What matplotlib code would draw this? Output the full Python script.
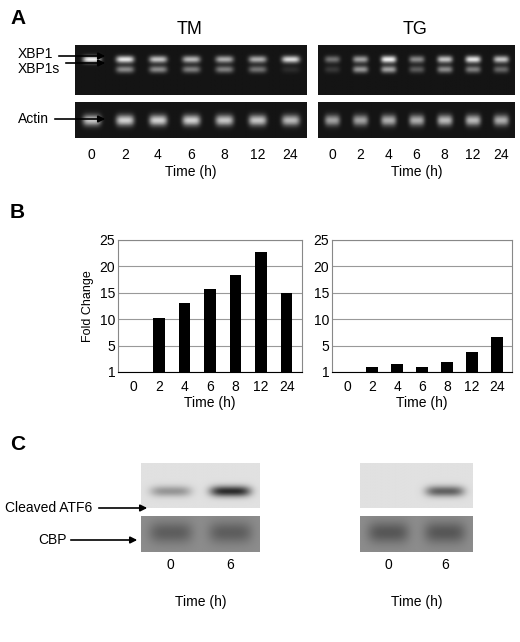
import numpy as np
import matplotlib
matplotlib.use("Agg")
import matplotlib.pyplot as plt

W, H = 520, 642

lanes = ["0", "2", "4", "6", "8", "12", "24"]
# gel band intensities (0..1) read by eye
tm_xbp1 = [0.95, 0.9, 0.75, 0.7, 0.65, 0.65, 0.85]
tm_xbp1s = [0.0, 0.5, 0.5, 0.45, 0.45, 0.4, 0.1]
tg_xbp1 = [0.4, 0.6, 0.95, 0.5, 0.75, 0.9, 0.75]
tg_xbp1s = [0.15, 0.55, 0.6, 0.3, 0.5, 0.45, 0.35]
tm_actin = [0.75, 0.8, 0.8, 0.8, 0.75, 0.75, 0.7]
tg_actin = [0.6, 0.6, 0.65, 0.65, 0.7, 0.7, 0.65]

# fold change (B)
tm_fold = [0, 10.2, 13.0, 15.8, 18.4, 22.7, 15.0]
tg_fold = [0, 1.8, 2.2, 1.8, 2.5, 4.0, 6.6]
fold_ticks = [1, 5, 10, 15, 20, 25]

# western blots (C)
wb_lanes = ["0", "6"]
tm_atf6 = [0.35, 0.85]
tg_atf6 = [0.0, 0.6]
tm_cbp = [0.35, 0.35]
tg_cbp = [0.4, 0.4]

fig = plt.figure(figsize=(W / 100, H / 100), dpi=100)
plt.rcParams["font.family"] = "Liberation Sans"


def px_axes(x0, y0, x1, y1):
    return fig.add_axes([x0 / W, 1 - y1 / H, (x1 - x0) / W, (y1 - y0) / H])


def fold_pos(v):
    # the original axis puts 1..5 on the same spacing as 5..10
    v = max(v, 1)
    return np.interp(v, fold_ticks, np.arange(len(fold_ticks)))


def band_image(rows, n, width=0.6, sig_y=0.09, bg=0.08, dark=False, shape=(60, 300)):
    h, w = shape
    yy, xx = np.mgrid[0:h, 0:w]
    img = np.zeros(shape)
    for yc, vals in rows:
        for i, v in enumerate(vals):
            xc = (i + 0.5) / n * w
            sx = w / n * width / 2.2
            gx = np.exp(-((xx - xc) / sx) ** 4)
            gy = np.exp(-((yy - yc * h) / (sig_y * h)) ** 2)
            img += v * gx * gy
    img = np.clip(img, 0, 1)
    if dark:
        return bg + (1 - bg) * img
    return bg - bg * img * 0.95


def gel(ax, rows, n, **kw):
    ax.imshow(band_image(rows, n, **kw), cmap="gray", vmin=0, vmax=1,
              aspect="auto", interpolation="bilinear")
    ax.set_xticks([])
    ax.set_yticks([])
    for s in ax.spines.values():
        s.set_visible(False)


def arrow(x0, x1, y):
    fig.add_artist(matplotlib.patches.FancyArrowPatch(
        (x0 / W, 1 - y / H), (x1 / W, 1 - y / H), transform=fig.transFigure,
        arrowstyle="-|>", color="black", lw=1.2, mutation_scale=10))


# ---- panel A ----
fig.text(10 / W, 1 - 18 / H, "A", fontsize=15, fontweight="bold", va="center")
fig.text(190 / W, 1 - 30 / H, "TM", fontsize=13, ha="center", va="center")
fig.text(415 / W, 1 - 30 / H, "TG", fontsize=13, ha="center", va="center")

for (x0, x1), top, bot, act in [((75, 307), tm_xbp1, tm_xbp1s, tm_actin),
                                ((318, 515), tg_xbp1, tg_xbp1s, tg_actin)]:
    a = px_axes(x0, 45, x1, 95)
    gel(a, [(0.28, top), (0.48, bot)], 7, sig_y=0.07, dark=True)
    b = px_axes(x0, 102, x1, 138)
    gel(b, [(0.5, act)], 7, sig_y=0.15, dark=True)
    for i, lab in enumerate(lanes):
        fig.text((x0 + (i + 0.5) * (x1 - x0) / 7) / W, 1 - 155 / H, lab,
                 fontsize=10, ha="center", va="center")
    fig.text((x0 + x1) / 2 / W, 1 - 172 / H, "Time (h)", fontsize=10,
             ha="center", va="center")

fig.text(18 / W, 1 - 54 / H, "XBP1", fontsize=10, va="center")
fig.text(18 / W, 1 - 69 / H, "XBP1s", fontsize=10, va="center")
arrow(56, 108, 56)
arrow(63, 108, 63)
fig.text(18 / W, 1 - 119 / H, "Actin", fontsize=10, va="center")
arrow(52, 108, 119)

# ---- panel B ----
fig.text(10 / W, 1 - 213 / H, "B", fontsize=15, fontweight="bold", va="center")
for (x0, x1), vals in [((118, 302), tm_fold), ((332, 512), tg_fold)]:
    ax = px_axes(x0, 240, x1, 372)
    x = np.arange(len(lanes))
    ax.bar(x, [fold_pos(v) for v in vals], width=0.45, color="black", zorder=3)
    ax.set_ylim(0, len(fold_ticks) - 1)
    ax.set_xlim(-0.6, 6.6)
    ax.set_yticks(np.arange(len(fold_ticks)))
    ax.set_yticklabels([str(t) for t in fold_ticks])
    ax.yaxis.grid(True, color="#999999", lw=0.8, zorder=0)
    ax.set_xticks(x)
    ax.set_xticklabels(lanes, fontsize=10)
    ax.tick_params(axis="y", labelsize=10, length=0, pad=2)
    ax.tick_params(axis="x", length=0, pad=6)
    ax.set_xlabel("Time (h)", fontsize=10, labelpad=1)
    for s in ax.spines.values():
        s.set_color("#888888")
    ax.spines["bottom"].set_color("black")
    if vals is tm_fold:
        ax.set_ylabel("Fold Change", fontsize=9)

# ---- panel C ----
fig.text(10 / W, 1 - 445 / H, "C", fontsize=15, fontweight="bold", va="center")
for (x0, x1), atf, cbp in [((141, 260), tm_atf6, tm_cbp), ((360, 473), tg_atf6, tg_cbp)]:
    a = px_axes(x0, 463, x1, 508)
    gel(a, [(0.62, atf)], 2, width=0.75, sig_y=0.12, bg=0.88)
    b = px_axes(x0, 516, x1, 552)
    gel(b, [(0.45, cbp)], 2, width=0.8, sig_y=0.3, bg=0.55)
    for i, lab in enumerate(wb_lanes):
        fig.text((x0 + (i + 0.5) * (x1 - x0) / 2) / W, 1 - 565 / H, lab,
                 fontsize=10, ha="center", va="center")
    fig.text((x0 + x1) / 2 / W, 1 - 602 / H, "Time (h)", fontsize=10,
             ha="center", va="center")

fig.text(5 / W, 1 - 508 / H, "Cleaved ATF6", fontsize=10, va="center")
arrow(96, 150, 508)
fig.text(38 / W, 1 - 540 / H, "CBP", fontsize=10, va="center")
arrow(68, 140, 540)

fig.savefig("out.png", dpi=100)
